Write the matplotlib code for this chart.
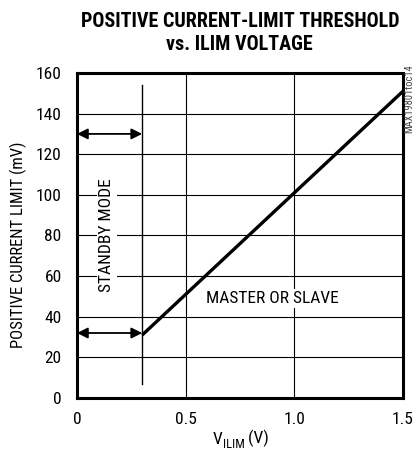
import matplotlib
matplotlib.use('Agg')
import matplotlib.pyplot as plt

# data
v_ilim = [0.3, 0.5, 1.0, 1.5]
i_limit = [31, 51, 101, 151]
standby_v = 0.3
standby_span = [7, 154]
arrow_levels = [130, 32]
x_ticks = [0, 0.5, 1.0, 1.5]
x_labels = ['0', '0.5', '1.0', '1.5']
y_ticks = [0, 20, 40, 60, 80, 100, 120, 140, 160]

plt.rcParams['font.family'] = ['Roboto Condensed', 'DejaVu Sans']

fig = plt.figure(figsize=(4.15, 4.54), dpi=100)
ax = fig.add_axes([0.1855, 0.1233, 0.7855, 0.7160])

ax.set_xlim(0, 1.5)
ax.set_ylim(0, 160)
ax.set_xticks(x_ticks)
ax.set_xticklabels(x_labels)
ax.set_yticks(y_ticks)
ax.tick_params(length=0, labelsize=12.5)
ax.tick_params(axis='x', pad=10)
ax.tick_params(axis='y', pad=11)
ax.grid(True, color='black', linewidth=0.8)
for s in ax.spines.values():
    s.set_linewidth(2.2)

ax.plot(v_ilim, i_limit, color='black', linewidth=2.4, solid_capstyle='butt')
ax.plot([standby_v, standby_v], standby_span, color='black', linewidth=1.0)

for y in arrow_levels:
    ax.annotate('', xy=(0, y), xytext=(standby_v, y),
                arrowprops=dict(arrowstyle='<|-|>', color='black', lw=1.3,
                                mutation_scale=16, shrinkA=0, shrinkB=0))

box = dict(facecolor='white', edgecolor='none', pad=1.5)
ax.text(0.138, 80, 'STANDBY MODE', rotation=90, ha='center', va='center',
        fontsize=12.5, bbox=box)
ax.text(0.9, 49, 'MASTER OR SLAVE', ha='center', va='center', fontsize=12.5,
        bbox=box)

ax.set_ylabel('POSITIVE CURRENT LIMIT (mV)', fontsize=12)
ax.yaxis.set_label_coords(-0.181, 0.47)
ax.yaxis.label.set_va('center')

# x label: V with ILIM subscript, built from pieces
t1 = fig.text(0.512, 0.015, 'V', ha='left', va='bottom', fontsize=12.5)
t2 = ax.annotate('ILIM', xy=(1, 0), xycoords=t1, xytext=(0.3, -2.5),
                 textcoords='offset points', ha='left', va='bottom',
                 fontsize=9, annotation_clip=False)
ax.annotate(' (V)', xy=(1, 0), xycoords=t2, xytext=(0, 2.5),
            textcoords='offset points', ha='left', va='bottom',
            fontsize=12.5, annotation_clip=False)

fig.text(0.578, 0.927, 'POSITIVE CURRENT-LIMIT THRESHOLD\nvs. ILIM VOLTAGE',
         ha='center', va='center', fontsize=14.5, fontweight='bold', linespacing=1.3)
fig.text(0.986, 0.858, 'MAX19801toc14', rotation=90, ha='center', va='top',
         fontsize=7.5, color='#444444')

fig.savefig('out.png', dpi=100)
